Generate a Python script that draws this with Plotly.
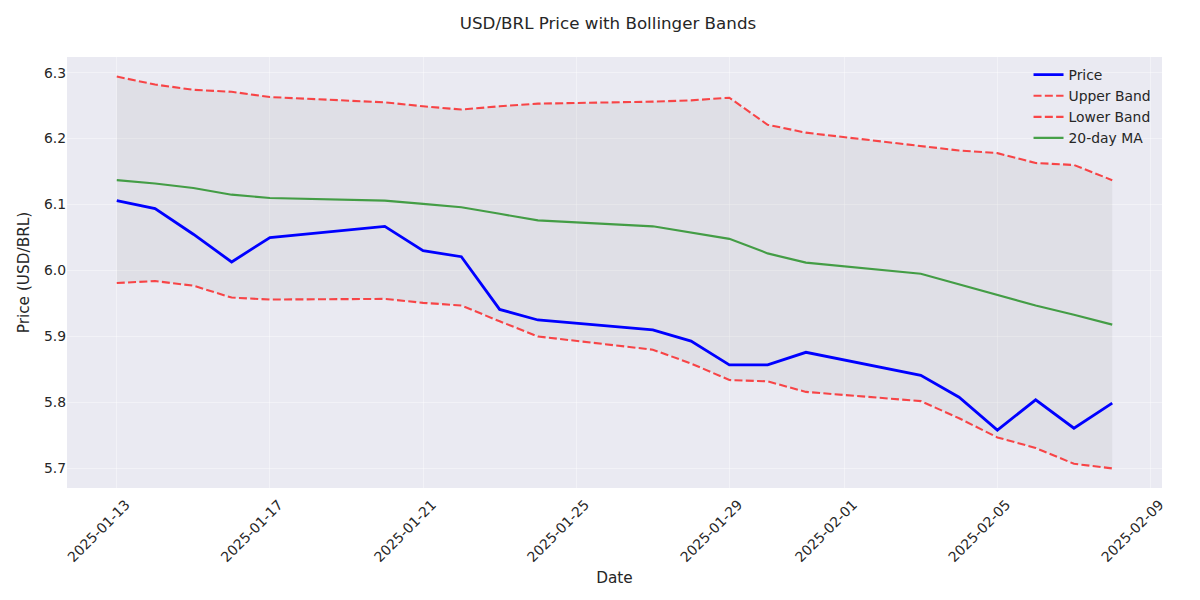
import pandas as pd
import plotly.graph_objects as go

dates = ["2025-01-13", "2025-01-14", "2025-01-15", "2025-01-16", "2025-01-17",
         "2025-01-20", "2025-01-21", "2025-01-22", "2025-01-23", "2025-01-24",
         "2025-01-27", "2025-01-28", "2025-01-29", "2025-01-30", "2025-01-31",
         "2025-02-03", "2025-02-04", "2025-02-05", "2025-02-06", "2025-02-07",
         "2025-02-08"]

price = [6.106, 6.094, 6.055, 6.013, 6.050,
         6.067, 6.030, 6.021, 5.941, 5.925,
         5.910, 5.893, 5.857, 5.857, 5.876,
         5.841, 5.808, 5.758, 5.804, 5.761,
         5.799]

upper_band = [6.294, 6.282, 6.274, 6.271, 6.263,
              6.255, 6.249, 6.244, 6.249, 6.253,
              6.256, 6.258, 6.262, 6.221, 6.209,
              6.189, 6.182, 6.178, 6.163, 6.160,
              6.137]

lower_band = [5.981, 5.984, 5.977, 5.959, 5.956,
              5.957, 5.951, 5.947, 5.923, 5.900,
              5.880, 5.859, 5.834, 5.832, 5.816,
              5.802, 5.776, 5.747, 5.731, 5.707,
              5.700]

ma20 = [6.137, 6.132, 6.125, 6.115, 6.110,
        6.106, 6.101, 6.096, 6.086, 6.076,
        6.067, 6.058, 6.048, 6.026, 6.012,
        5.995, 5.979, 5.962, 5.947, 5.933,
        5.918]

tick_dates = ["2025-01-13", "2025-01-17", "2025-01-21", "2025-01-25",
              "2025-01-29", "2025-02-01", "2025-02-05", "2025-02-09"]
y_ticks = [5.7, 5.8, 5.9, 6.0, 6.1, 6.2, 6.3]

x = pd.to_datetime(dates)
span = x.max() - x.min()
x_range = [x.min() - span * 0.05, x.max() + span * 0.05]
ylo = min(lower_band); yhi = max(upper_band)
y_range = [ylo - (yhi - ylo) * 0.05, yhi + (yhi - ylo) * 0.05]

TXT = "#262626"
FONT = "DejaVu Sans"
GRID = "rgba(255,255,255,0.4)"

fig = go.Figure()
# shaded band
fig.add_trace(go.Scatter(x=x, y=upper_band, mode="lines", line=dict(width=0),
                         showlegend=False, hoverinfo="skip"))
fig.add_trace(go.Scatter(x=x, y=lower_band, mode="lines", line=dict(width=0),
                         fill="tonexty", fillcolor="rgba(128,128,128,0.1)",
                         showlegend=False, hoverinfo="skip"))

fig.add_trace(go.Scatter(x=x, y=price, mode="lines", name="Price",
                         line=dict(color="#0000FF", width=2.8)))
fig.add_trace(go.Scatter(x=x, y=upper_band, mode="lines", name="Upper Band",
                         line=dict(color="rgba(255,0,0,0.7)", width=2.1, dash="8px,3.3px")))
fig.add_trace(go.Scatter(x=x, y=lower_band, mode="lines", name="Lower Band",
                         line=dict(color="rgba(255,0,0,0.7)", width=2.1, dash="8px,3.3px")))
fig.add_trace(go.Scatter(x=x, y=ma20, mode="lines", name="20-day MA",
                         line=dict(color="rgba(0,128,0,0.7)", width=2.1)))

fig.update_layout(
    width=1200, height=600,
    paper_bgcolor="white", plot_bgcolor="#EAEAF2",
    margin=dict(l=59, r=46, t=49, b=120),
    font=dict(family=FONT, color=TXT, size=13.9),
    title=dict(text="USD/BRL Price with Bollinger Bands", x=0.5, xanchor="center",
               y=1 - 15 / 600, yanchor="middle", font=dict(size=16.7, color=TXT)),
    legend=dict(x=0.995, y=0.995, xanchor="right", yanchor="top",
                bgcolor="rgba(0,0,0,0)", font=dict(size=13.9, color=TXT),
                traceorder="normal", tracegroupgap=0),
    showlegend=True,
)
fig.update_xaxes(
    range=x_range, tickvals=pd.to_datetime(tick_dates), ticktext=tick_dates,
    tickangle=-45, showgrid=True, gridcolor=GRID, gridwidth=1,
    zeroline=False, showline=False, ticks="", ticklen=0,
    ticklabelstandoff=5, ticklabelshift=9,
    title=dict(text="Date", font=dict(size=15.3, color=TXT), standoff=8),
    tickfont=dict(size=13.9, color=TXT),
)
fig.update_yaxes(
    range=y_range, tickvals=y_ticks, ticktext=[f"{v:.1f}" for v in y_ticks],
    showgrid=True, gridcolor=GRID, gridwidth=1, zeroline=False, showline=False,
    ticks="", title=dict(text="Price (USD/BRL)", font=dict(size=15.3, color=TXT), standoff=10),
    tickfont=dict(size=13.9, color=TXT),
)

fig.write_html("out.html")
